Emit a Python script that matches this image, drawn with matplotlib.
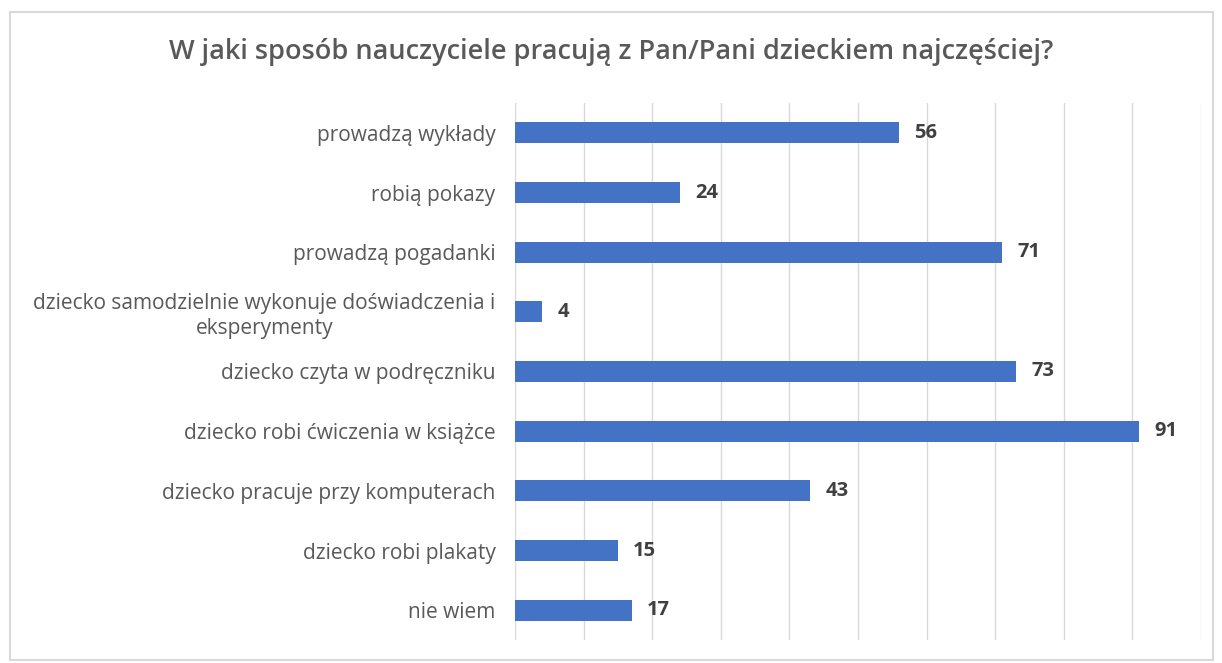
import matplotlib

matplotlib.use("Agg")
import matplotlib.pyplot as plt
from matplotlib.patches import Rectangle

# Data
categories = [
    "prowadzą wykłady",
    "robią pokazy",
    "prowadzą pogadanki",
    "dziecko samodzielnie wykonuje doświadczenia i\neksperymenty",
    "dziecko czyta w podręczniku",
    "dziecko robi ćwiczenia w książce",
    "dziecko pracuje przy komputerach",
    "dziecko robi plakaty",
    "nie wiem",
]
values = [56, 24, 71, 4, 73, 91, 43, 15, 17]
title = "W jaki sposób nauczyciele pracują z Pan/Pani dzieckiem najczęściej?"

plt.rcParams["font.family"] = ["Open Sans", "DejaVu Sans"]

fig = plt.figure(figsize=(12.22, 6.63), dpi=100)
ax = fig.add_axes([515 / 1222, 1 - 640 / 663, (1201 - 515) / 1222, (640 - 103) / 663])

ypos = list(range(len(categories)))
ax.barh(ypos, values, height=0.35, color="#4472C4", zorder=3)
ax.set_ylim(len(categories) - 0.5, -0.5)
ax.set_xlim(0, 100)
ax.set_xticks(range(0, 101, 10))
ax.set_xticklabels([])
ax.tick_params(axis="x", length=0)
ax.tick_params(axis="y", length=0, pad=14)
ax.set_yticks(ypos)
ax.set_yticklabels(categories, fontsize=15, color="#595959")
for lbl in ax.get_yticklabels():
    lbl.set_multialignment("center")
    lbl.set_linespacing(1.25)
ax.grid(axis="x", color="#d9d9d9", linewidth=1, zorder=0)
for s in ax.spines.values():
    s.set_visible(False)

for y, v in zip(ypos, values):
    ax.annotate(str(v), (v, y), xytext=(11, 0), textcoords="offset points",
                va="center", ha="left", fontsize=14.5, fontweight="bold", color="#404040")

fig.text(0.5, 1 - 52 / 663, title, ha="center", va="center", fontsize=19.5,
         fontweight="semibold", color="#595959")

# light chart-area border
fig.patches.append(Rectangle((10 / 1222, 1 - 660 / 663), 1203 / 1222, 648 / 663,
                             transform=fig.transFigure, fill=False,
                             edgecolor="#d9d9d9", linewidth=1.5))

fig.savefig("out.png", dpi=100)
